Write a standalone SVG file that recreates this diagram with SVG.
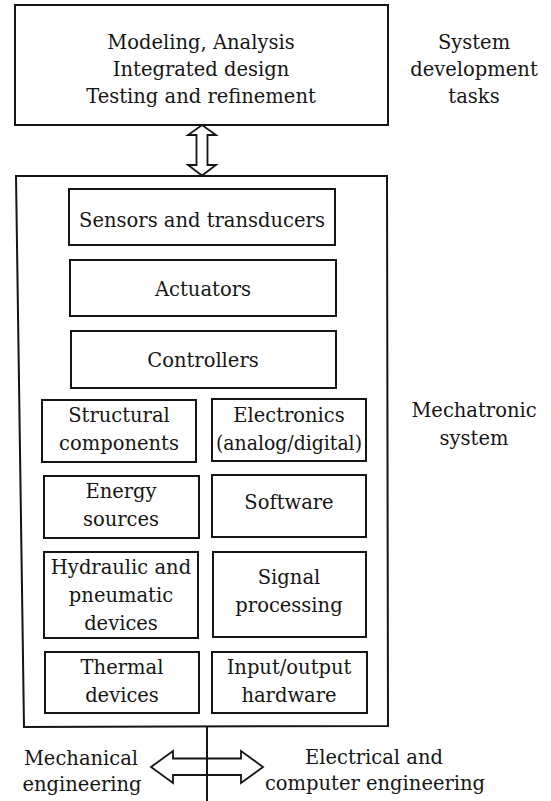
<svg xmlns="http://www.w3.org/2000/svg" width="551" height="801" viewBox="0 0 551 801">
<style>
.bx{fill:none;stroke:#151515;stroke-width:2}
.ar{fill:#fff;stroke:#151515;stroke-width:1.8;stroke-linejoin:miter}
.ln{fill:none;stroke:#151515;stroke-width:2}
text{font-family:"DejaVu Serif","Liberation Serif",serif;font-size:19.5px;fill:#151515;text-anchor:middle}
</style>
<rect width="551" height="801" fill="#fff"/>
<g id="tasks">
<rect class="bx" x="15" y="5" width="373" height="120"/>
<text x="201" y="49">Modeling, Analysis</text>
<text x="201" y="76">Integrated design</text>
<text x="201" y="103">Testing and refinement</text>
</g>
<g id="tasks-label">
<text x="474" y="49">System</text>
<text x="474" y="76">development</text>
<text x="474" y="103">tasks</text>
</g>
<g id="mechatronic-system">
<path class="bx" d="M16,176 L387,176 L388,726 L24,727 Z"/>
</g>
<g id="mechatronic-label">
<text x="474" y="417">Mechatronic</text>
<text x="474" y="445">system</text>
</g>
<g id="sensors">
<rect class="bx" x="69" y="189" width="266" height="56"/>
<text x="202" y="227">Sensors and transducers</text>
</g>
<g id="actuators">
<rect class="bx" x="70" y="260" width="266" height="56"/>
<text x="203" y="296">Actuators</text>
</g>
<g id="controllers">
<rect class="bx" x="71" y="331" width="265" height="57"/>
<text x="203" y="367">Controllers</text>
</g>
<g id="structural">
<rect class="bx" x="42" y="400" width="154" height="62"/>
<text x="119" y="422">Structural</text>
<text x="119" y="450">components</text>
</g>
<g id="electronics">
<rect class="bx" x="212" y="399" width="154" height="62"/>
<text x="289" y="422">Electronics</text>
<text x="289" y="450" textLength="146" lengthAdjust="spacingAndGlyphs">(analog/digital)</text>
</g>
<g id="energy">
<rect class="bx" x="44" y="476" width="155" height="62"/>
<text x="121" y="498">Energy</text>
<text x="121" y="526">sources</text>
</g>
<g id="software">
<rect class="bx" x="212" y="475" width="154" height="62"/>
<text x="289" y="509">Software</text>
</g>
<g id="hydraulic">
<rect class="bx" x="44" y="552" width="154" height="86"/>
<text x="121" y="574">Hydraulic and</text>
<text x="121" y="602">pneumatic</text>
<text x="121" y="630">devices</text>
</g>
<g id="signal">
<rect class="bx" x="213" y="552" width="153" height="85"/>
<text x="289" y="584">Signal</text>
<text x="289" y="612">processing</text>
</g>
<g id="thermal">
<rect class="bx" x="45" y="652" width="154" height="61"/>
<text x="122" y="674">Thermal</text>
<text x="122" y="702">devices</text>
</g>
<g id="io">
<rect class="bx" x="212" y="652" width="155" height="61"/>
<text x="289" y="674">Input/output</text>
<text x="289" y="702">hardware</text>
</g>
<g id="mech-label">
<text x="81" y="765">Mechanical</text>
<text x="82" y="791">engineering</text>
</g>
<g id="elec-label">
<text x="374" y="764">Electrical and</text>
<text x="375" y="790">computer engineering</text>
</g>
<g id="connectors">
<path class="ar" d="M202,125 L216,135 L207.5,135 L207.5,165 L216,165 L202,175.5 L188,165 L196.5,165 L196.5,135 L188,135 Z"/>
<path class="ln" d="M207,727 L207,801"/>
<path class="ar" d="M151,767 L173,751 L173,758.5 L241,758.5 L241,751 L263,767 L241,783 L241,775 L173,775 L173,783 Z"/>
<path class="ln" d="M207,757 L207,776"/>
</g>
</svg>
